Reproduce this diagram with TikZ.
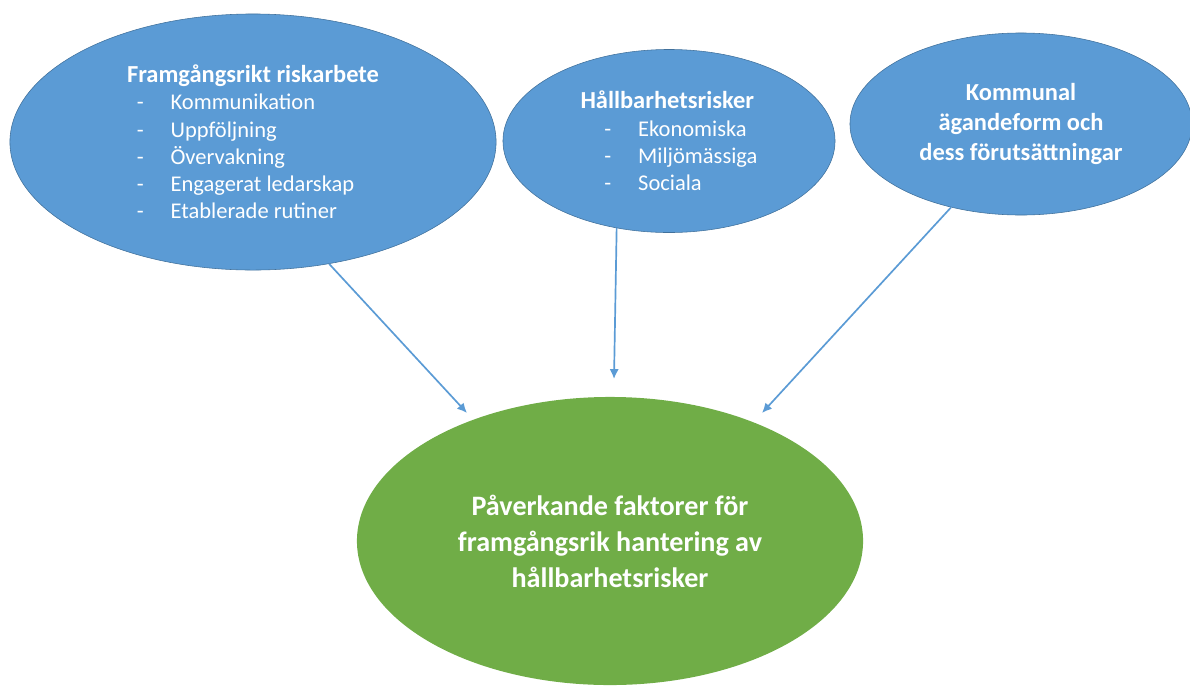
\documentclass[tikz,border=0pt]{standalone}
\usepackage{fontspec}
\setmainfont{Carlito}
\usetikzlibrary{arrows.meta,shapes.geometric}
\definecolor{ellblue}{HTML}{5B9BD5}
\definecolor{ellborder}{HTML}{41719C}
\definecolor{ellgreen}{HTML}{70AD47}
\newcommand{\riskitem}[2]{\hspace*{#1}\makebox[24pt][l]{-}#2}
\newcommand{\risktitle}[1]{{\fontsize{17.4}{19.4}\selectfont\bfseries #1}}

\begin{document}
\begin{tikzpicture}[x=0.025cm,y=-0.025cm,->,>={Latex[length=7pt,width=6.5pt]},
  blue node/.style={ellipse,fill=ellblue,draw=ellborder,thin,text=white,inner sep=0pt,align=left,font=\fontsize{16}{19.4}\selectfont},
  green node/.style={ellipse,fill=ellgreen,text=white,inner sep=0pt,align=center,font=\fontsize{20}{25.6}\selectfont\bfseries}]

  \clip (0,0) rectangle (1190,686);

  \node[blue node,minimum width=12.15cm,minimum height=6.4cm] (risk) at (253,142)
    {\risktitle{Framgångsrikt riskarbete}\\
     \riskitem{7pt}{Kommunikation}\\
     \riskitem{7pt}{Uppföljning}\\
     \riskitem{7pt}{Övervakning}\\
     \riskitem{7pt}{Engagerat ledarskap}\\
     \riskitem{7pt}{Etablerade rutiner}};
  \node[blue node,minimum width=8.3cm,minimum height=4.575cm] (hall) at (669,141)
    {\risktitle{Hållbarhetsrisker}\\
     \riskitem{17pt}{Ekonomiska}\\
     \riskitem{17pt}{Miljömässiga}\\
     \riskitem{17pt}{Sociala}};
  \node[blue node,align=center,minimum width=8.55cm,minimum height=4.55cm,
    font=\fontsize{17.4}{21}\selectfont\bfseries] (komm) at (1021,124)
    {Kommunal\\ ägandeform och\\ dess förutsättningar};
  \node[green node,minimum width=12.65cm,minimum height=7.2cm] (pav) at (610,541)
    {Påverkande faktorer för\\ framgångsrik hantering av\\ hållbarhetsrisker};

  \coordinate (p1) at (467,413);
  \coordinate (p2) at (614,379);
  \coordinate (p3) at (762,413);

  \path[every edge/.style={draw=ellblue,line width=1.2pt}]
    (risk.-58) edge (p1)
    (hall.-121) edge (p2)
    (komm.-130) edge (p3)
    ;
\end{tikzpicture}
\end{document}
